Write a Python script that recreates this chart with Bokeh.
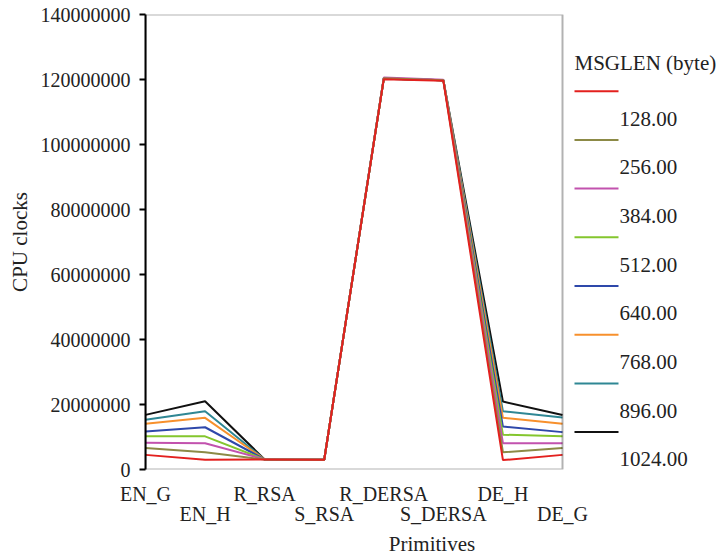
from bokeh.plotting import figure
from bokeh.models import (Range1d, FixedTicker, LinearAxis, BoxAnnotation,
                          NumeralTickFormatter)
from bokeh.embed import file_html
from bokeh.resources import INLINE
from bokeh.core.properties import value

# ---------------- data ----------------
primitives = ["EN_G", "EN_H", "R_RSA", "S_RSA", "R_DERSA", "S_DERSA", "DE_H", "DE_G"]
msglen_labels = ["128.00", "256.00", "384.00", "512.00", "640.00", "768.00", "896.00", "1024.00"]
colors = ["#e3201e", "#8c8a46", "#c252ae", "#84c62e", "#2e48aa", "#f7902c", "#2f8794", "#111111"]

len128 = [4.5e6, 3.0e6, 3.1e6, 3.0e6, 120.1e6, 119.6e6, 2.9e6, 4.5e6]
len256 = [6.6e6, 5.3e6, 3.1e6, 3.0e6, 120.4e6, 119.8e6, 5.3e6, 6.6e6]
len384 = [8.2e6, 8.1e6, 3.1e6, 3.0e6, 120.6e6, 119.9e6, 8.1e6, 8.1e6]
len512 = [10.2e6, 10.2e6, 3.1e6, 3.0e6, 120.3e6, 119.8e6, 10.7e6, 10.2e6]
len640 = [11.7e6, 13.0e6, 3.1e6, 3.0e6, 120.3e6, 119.8e6, 13.2e6, 11.5e6]
len768 = [14.1e6, 15.9e6, 3.1e6, 3.0e6, 120.3e6, 119.8e6, 15.9e6, 14.1e6]
len896 = [15.3e6, 17.9e6, 3.1e6, 3.0e6, 120.3e6, 119.8e6, 17.9e6, 16.0e6]
len1024 = [16.8e6, 21.0e6, 3.1e6, 3.0e6, 120.2e6, 119.8e6, 20.9e6, 16.8e6]
series = [len128, len256, len384, len512, len640, len768, len896, len1024]

yticks = [0, 20000000, 40000000, 60000000, 80000000, 100000000, 120000000, 140000000]

# ---------------- layout ----------------
W, H = 718, 558
FRAME_LEFT, FRAME_TOP, FRAME_BOTTOM = 145, 14, 469
PLOT_RIGHT_PX = 417.0          # pixel width of the visible box (0..7)
NCAT = len(primitives) - 1
XMAX = (W - FRAME_LEFT) / PLOT_RIGHT_PX * NCAT
YMAX = yticks[-1]
FRAME_H = FRAME_BOTTOM - FRAME_TOP

def xd(px):
    return (px - FRAME_LEFT) * NCAT / PLOT_RIGHT_PX

def yd(py):
    return (FRAME_BOTTOM - py) * YMAX / FRAME_H

FONT = "Liberation Serif"
TXT = "#222222"

p = figure(width=W, height=H, x_range=Range1d(0, XMAX), y_range=Range1d(0, YMAX),
           output_backend="svg", toolbar_location=None, x_axis_type=None,
           min_border_left=FRAME_LEFT, min_border_right=0, min_border_top=FRAME_TOP,
           min_border_bottom=H - FRAME_BOTTOM)
p.outline_line_color = None
p.grid.visible = False
p.background_fill_color = "white"
p.border_fill_color = "white"

# y axis
ya = p.yaxis[0]
ya.ticker = FixedTicker(ticks=yticks)
ya.formatter = NumeralTickFormatter(format="0")
ya.axis_line_width = 2
ya.axis_line_color = "black"
ya.major_tick_line_width = 2
ya.major_tick_out = 6
ya.major_tick_in = 0
ya.minor_tick_line_color = None
ya.major_label_text_font = FONT
ya.major_label_text_font_size = "20px"
ya.major_label_text_color = TXT
ya.major_label_standoff = 9
ya.axis_label = "CPU clocks"
ya.axis_label_text_font = FONT
ya.axis_label_text_font_size = "21px"
ya.axis_label_text_font_style = "normal"
ya.axis_label_text_color = TXT
ya.axis_label_standoff = 6

# x axes (staggered labels)
even = list(range(0, len(primitives), 2))
odd = list(range(1, len(primitives), 2))
ax1 = LinearAxis(ticker=FixedTicker(ticks=even),
                 major_label_overrides={i: primitives[i] for i in even})
ax2 = LinearAxis(ticker=FixedTicker(ticks=odd),
                 major_label_overrides={i: primitives[i] for i in odd})
for ax in (ax1, ax2):
    ax.axis_line_color = None
    ax.major_tick_line_color = None
    ax.minor_tick_line_color = None
    ax.major_tick_out = 0
    ax.major_tick_in = 0
    ax.major_label_text_font = FONT
    ax.major_label_text_font_size = "20px"
    ax.major_label_text_color = TXT
ax1.major_label_standoff = 13
ax2.major_label_standoff = -5
ax2.axis_label = "Primitives"
ax2.axis_label_text_font = FONT
ax2.axis_label_text_font_size = "21px"
ax2.axis_label_text_font_style = "normal"
ax2.axis_label_text_color = TXT
ax2.axis_label_standoff = 4
p.add_layout(ax1, "below")
p.add_layout(ax2, "below")

# box around plotting area
p.add_layout(BoxAnnotation(left=0, right=NCAT, bottom=0, top=YMAX,
                           fill_alpha=0, line_color="black", line_width=2))

# lines (black first, red on top)
xs = list(range(len(primitives)))
for vals, c in reversed(list(zip(series, colors))):
    p.line(xs, vals, line_color=c, line_width=2)

# legend (drawn manually, labels sit between the line samples)
n = len(msglen_labels)
line_y = [yd(90.7 + 48.7 * i) for i in range(n)]
lab_y = [yd(118.0 + 48.7 * i) for i in range(n)]
p.segment(x0=[xd(574)] * n, x1=[xd(618)] * n, y0=line_y, y1=line_y,
          line_color=colors, line_width=2)
p.text(x=[xd(619)] * n, y=lab_y, text=msglen_labels, text_font=value(FONT),
       text_font_size="21px", text_baseline="middle", text_align="left",
       text_color=TXT)
p.text(x=[xd(574)], y=[yd(62)], text=["MSGLEN (byte)"], text_font=value(FONT),
       text_font_size="21px", text_baseline="middle", text_align="left",
       text_color=TXT)

open("out.html", "w").write(file_html(p, INLINE))
